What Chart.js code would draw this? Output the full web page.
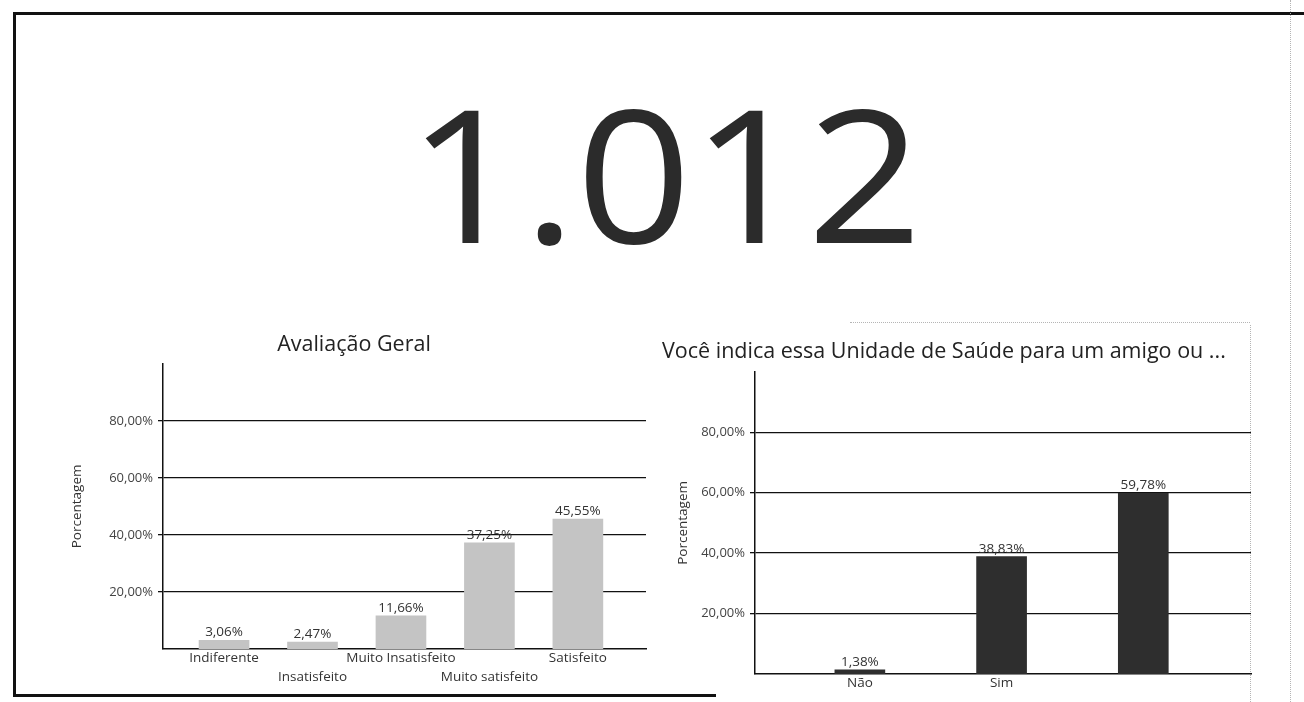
<!DOCTYPE html>
<html lang="pt-BR">
<head>
    <meta charset="UTF-8">
    <title>Pesquisa de Satisfação</title>
    <script src="https://cdn.jsdelivr.net/npm/chart.js"></script>
    <style>
        body {
            margin: 0;
            width: 1304px;
            height: 702px;
            background: #fff;
            position: relative;
            overflow: hidden;
            font-family: 'Open Sans', sans-serif;
        }
        .line { position: absolute; background: #111; }
        .dots { position: absolute; border-color: #b5b5b5; border-style: dotted; border-width: 0; }
        #total {
            position: absolute;
            left: 0;
            width: 1330px;
            top: 30px;
            text-align: center;
            font-size: 202px;
            line-height: 290px;
            color: #2b2b2b;
            transform-origin: 50% 149px;
            transform: translateY(-4px) scaleY(0.918);
        }
        canvas { position: absolute; }
    </style>
</head>
<body>
    <!-- moldura da página (digitalizada) -->
    <div class="line" style="left:13px; top:12px; width:1291px; height:3px;"></div>
    <div class="line" style="left:13px; top:12px; width:3px; height:685px;"></div>
    <div class="line" style="left:13px; top:694px; width:703px; height:3px;"></div>
    <div class="dots" style="left:1250px; top:325px; height:377px; border-left-width:1px;"></div>
    <div class="dots" style="left:1290px; top:0; height:702px; border-left-width:1px;"></div>
    <div class="dots" style="left:850px; top:322px; width:400px; border-top-width:1px;"></div>

    <div id="total">1.012</div>

    <canvas id="avaliacao" width="600" height="375" style="left:62px; top:325px;"></canvas>
    <canvas id="indica" width="600" height="372" style="left:662px; top:330px;"></canvas>

    <script>
        // Avaliação Geral
        const avaliacaoLabels = ['Indiferente', 'Insatisfeito', 'Muito Insatisfeito', 'Muito satisfeito', 'Satisfeito'];
        const avaliacaoValues = [3.06, 2.47, 11.66, 37.25, 45.55];

        // Você indica essa Unidade de Saúde para um amigo ou ...
        const indicaLabels = ['Não', 'Sim', ''];
        const indicaValues = [1.38, 38.83, 59.78];

        const yTicks = [20, 40, 60, 80];

        Chart.defaults.font.family = "'Open Sans', sans-serif";
        Chart.defaults.color = '#333';

        const fmt = v => v.toFixed(2).replace('.', ',') + '%';

        // rótulos de dados acima das barras
        const rotulos = {
            id: 'rotulos',
            afterDatasetsDraw(chart) {
                const ctx = chart.ctx;
                ctx.save();
                ctx.font = "13.5px 'Open Sans', sans-serif";
                ctx.fillStyle = '#333';
                ctx.textAlign = 'center';
                ctx.textBaseline = 'bottom';
                chart.getDatasetMeta(0).data.forEach((bar, i) => {
                    ctx.fillText(fmt(chart.data.datasets[0].data[i].y), bar.x, bar.y - 1);
                });
                ctx.restore();
            }
        };

        function montaGrafico(id, cfg) {
            return new Chart(document.getElementById(id), {
                type: 'bar',
                data: {
                    datasets: [{
                        data: cfg.values.map((v, i) => ({ x: i, y: v })),
                        backgroundColor: cfg.cor,
                        barThickness: 50
                    }]
                },
                options: {
                    responsive: false,
                    animation: false,
                    devicePixelRatio: 1,
                    layout: { padding: { left: 0, right: cfg.padRight, top: 0, bottom: 0 } },
                    plugins: {
                        legend: { display: false },
                        tooltip: { enabled: false },
                        title: {
                            display: true,
                            text: cfg.titulo,
                            align: cfg.alinhar,
                            color: '#222',
                            font: { size: 21.5, weight: 'normal' },
                            padding: cfg.tituloPad
                        }
                    },
                    scales: {
                        x: {
                            type: 'linear',
                            offset: false,
                            min: cfg.xMin,
                            max: cfg.xMax,
                            afterBuildTicks: s => { s.ticks = cfg.labels.map((c, i) => ({ value: i })); },
                            afterFit: s => { s.height = cfg.xAltura; },
                            grid: { offset: false, drawOnChartArea: false, drawTicks: false },
                            border: { color: '#111', width: 1.5 },
                            ticks: {
                                autoSkip: false,
                                maxRotation: 0,
                                padding: 0,
                                color: '#333',
                                font: { size: 13.5, lineHeight: 1.4 },
                                callback: (v, i) => cfg.tickTexto(i)
                            }
                        },
                        y: {
                            min: 0,
                            max: 100,
                            afterBuildTicks: s => { s.ticks = yTicks.map(v => ({ value: v })); },
                            afterFit: s => { s.width = cfg.yLargura; },
                            grid: { color: '#111', lineWidth: 1.3, tickLength: 5 },
                            border: { color: '#111', width: 1.5 },
                            ticks: {
                                padding: 5,
                                color: '#444',
                                font: { size: 13 },
                                callback: v => fmt(v)
                            },
                            title: {
                                display: true,
                                text: 'Porcentagem',
                                color: '#333',
                                font: { size: 13.5 },
                                padding: { top: cfg.yTituloPad, bottom: 0 }
                            }
                        }
                    }
                },
                plugins: [rotulos]
            });
        }

        montaGrafico('avaliacao', {
            titulo: 'Avaliação Geral',
            alinhar: 'center',
            tituloPad: { top: 7, bottom: 6 },
            values: avaliacaoValues,
            labels: avaliacaoLabels,
            // rótulos alternados em duas linhas, como no original
            tickTexto: i => (i % 2 === 1 ? ['', avaliacaoLabels[i]] : avaliacaoLabels[i]),
            cor: '#c4c4c4',
            xMin: -0.69,
            xMax: 4.77,
            xAltura: 51,
            yLargura: 101,
            yTituloPad: 7,
            padRight: 16
        });

        montaGrafico('indica', {
            titulo: 'Você indica essa Unidade de Saúde para um amigo ou ...',
            alinhar: 'start',
            tituloPad: { top: 9, bottom: 7 },
            values: indicaValues,
            labels: indicaLabels,
            tickTexto: i => indicaLabels[i],
            cor: '#2e2e2e',
            xMin: -0.74,
            xMax: 2.76,
            xAltura: 28,
            yLargura: 93,
            yTituloPad: 13,
            padRight: 11
        });
    </script>
</body>
</html>
